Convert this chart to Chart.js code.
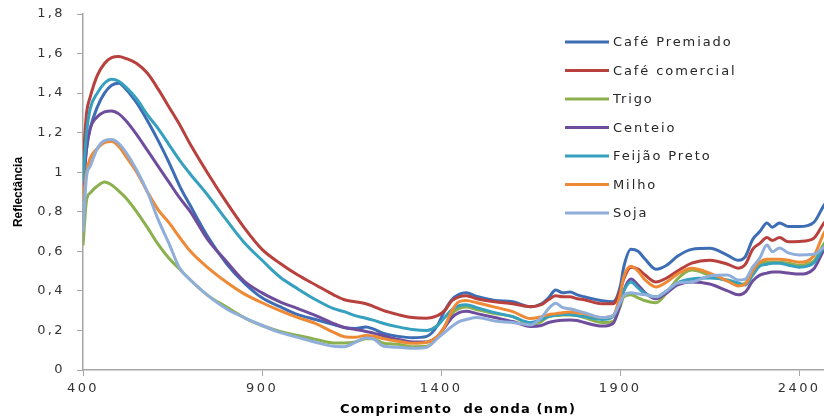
<!DOCTYPE html>
<html>
<head>
<meta charset="utf-8">
<script src="https://cdn.jsdelivr.net/npm/chart.js@4"></script>
<style>
html,body{margin:0;padding:0;background:#fff;overflow:hidden;width:824px;height:419px;}
#wrap{position:absolute;left:0;top:0;width:835px;height:419px;}
</style>
</head>
<body>
<div id="wrap"><canvas id="c" width="835" height="419"></canvas></div>
<script>
// ---- data ----
const WAVELENGTHS = [400,410,420,440,460,480,500,520,550,580,610,640,670,700,
  750,800,850,900,950,1000,1050,1100,
  1130,1160,1190,1210,1240,1280,1320,1360,
  1390,1410,1430,1450,1470,1500,
  1550,1600,1650,1680,1700,1720,1740,1760,1780,1800,
  1850,1880,1900,1910,1930,1950,1970,2000,
  2030,2060,2100,2150,2200,2230,2250,
  2270,2290,2310,2325,2345,2370,2400,2440,2470,2500];

const CAFE_PREMIADO = [0.95,1.12,1.22,1.33,1.40,1.44,1.45,1.42,1.35,1.26,1.16,1.05,0.93,0.83,
  0.67,0.54,0.44,0.365,0.32,0.28,0.255,0.23,
  0.215,0.21,0.218,0.208,0.185,0.17,0.163,0.17,
  0.225,0.30,0.355,0.382,0.39,0.372,
  0.352,0.345,0.32,0.335,0.365,0.405,0.39,0.395,0.38,0.37,
  0.35,0.345,0.42,0.52,0.61,0.60,0.56,0.51,
  0.53,0.575,0.61,0.615,0.58,0.555,0.575,
  0.66,0.70,0.743,0.722,0.743,0.725,0.725,0.745,0.835,0.90];

const CAFE_COMERCIAL = [1.05,1.30,1.38,1.49,1.55,1.58,1.585,1.575,1.55,1.50,1.42,1.33,1.24,1.14,
  0.99,0.85,0.72,0.61,0.54,0.48,0.43,0.38,
  0.355,0.345,0.335,0.322,0.30,0.28,0.265,0.262,
  0.275,0.30,0.35,0.37,0.375,0.36,
  0.345,0.335,0.32,0.33,0.355,0.375,0.37,0.37,0.36,0.355,
  0.335,0.335,0.40,0.46,0.52,0.51,0.48,0.445,
  0.465,0.50,0.54,0.555,0.535,0.515,0.535,
  0.61,0.64,0.67,0.655,0.67,0.648,0.65,0.665,0.745,0.80];

const TRIGO = [0.63,0.86,0.895,0.93,0.95,0.935,0.905,0.87,0.80,0.72,0.635,0.565,0.51,0.455,
  0.375,0.32,0.265,0.225,0.195,0.175,0.155,0.137,
  0.137,0.142,0.158,0.158,0.135,0.13,0.118,0.12,
  0.165,0.22,0.285,0.31,0.318,0.305,
  0.285,0.27,0.23,0.245,0.27,0.275,0.278,0.278,0.275,0.265,
  0.24,0.245,0.32,0.37,0.38,0.365,0.35,0.34,
  0.39,0.46,0.505,0.48,0.45,0.43,0.44,
  0.50,0.54,0.545,0.545,0.545,0.54,0.53,0.55,0.64,0.70];

const CENTEIO = [0.90,1.12,1.22,1.28,1.305,1.31,1.295,1.26,1.19,1.11,1.03,0.95,0.87,0.80,
  0.655,0.55,0.45,0.39,0.345,0.31,0.275,0.235,
  0.215,0.205,0.195,0.187,0.172,0.155,0.142,0.142,
  0.17,0.215,0.265,0.29,0.297,0.285,
  0.265,0.245,0.22,0.225,0.24,0.248,0.252,0.253,0.25,0.24,
  0.222,0.235,0.33,0.40,0.46,0.43,0.39,0.36,
  0.39,0.43,0.445,0.435,0.40,0.38,0.395,
  0.45,0.48,0.49,0.495,0.495,0.49,0.485,0.51,0.61,0.68];

const FEIJAO_PRETO = [0.95,1.20,1.32,1.40,1.45,1.47,1.46,1.43,1.37,1.29,1.22,1.14,1.06,0.99,
  0.88,0.76,0.645,0.555,0.47,0.41,0.355,0.31,
  0.295,0.275,0.262,0.252,0.235,0.218,0.205,0.20,
  0.225,0.265,0.305,0.325,0.33,0.315,
  0.29,0.27,0.24,0.255,0.27,0.278,0.28,0.28,0.275,0.27,
  0.255,0.27,0.35,0.40,0.445,0.415,0.385,0.37,
  0.40,0.44,0.46,0.465,0.455,0.44,0.43,
  0.48,0.525,0.535,0.54,0.54,0.53,0.52,0.54,0.625,0.69];

const MILHO = [0.85,1.00,1.07,1.12,1.15,1.155,1.13,1.08,1.00,0.90,0.81,0.745,0.67,0.60,
  0.515,0.445,0.385,0.34,0.30,0.265,0.235,0.19,
  0.168,0.165,0.175,0.172,0.158,0.145,0.135,0.14,
  0.17,0.22,0.30,0.345,0.352,0.34,
  0.318,0.295,0.26,0.27,0.28,0.285,0.29,0.293,0.29,0.285,
  0.265,0.275,0.38,0.47,0.525,0.50,0.455,0.42,
  0.445,0.485,0.515,0.49,0.45,0.425,0.435,
  0.50,0.545,0.56,0.56,0.56,0.555,0.545,0.575,0.695,0.76];

const SOJA = [0.70,0.98,1.03,1.12,1.16,1.165,1.145,1.10,1.01,0.90,0.76,0.64,0.515,0.455,
  0.375,0.31,0.265,0.225,0.19,0.165,0.14,0.12,
  0.118,0.14,0.162,0.158,0.12,0.115,0.11,0.115,
  0.16,0.19,0.22,0.245,0.255,0.265,
  0.248,0.24,0.228,0.265,0.31,0.338,0.315,0.31,0.30,0.29,
  0.265,0.275,0.34,0.375,0.39,0.385,0.38,0.37,
  0.40,0.44,0.445,0.475,0.48,0.455,0.46,
  0.52,0.566,0.632,0.598,0.617,0.592,0.582,0.585,0.622,0.66];

const SERIES_NAMES = ['Café Premiado','Café comercial','Trigo','Centeio','Feijão Preto','Milho','Soja'];
const X_TICKS = [400,900,1400,1900,2400];
const X_TICK_LABELS = ['400','900','1400','1900','2400'];
const Y_TICKS = [0,0.2,0.4,0.6,0.8,1,1.2,1.4,1.6,1.8];
const Y_TICK_LABELS = ['0','0,2','0,4','0,6','0,8','1','1,2','1,4','1,6','1,8'];
const X_TITLE = 'Comprimento  de onda (nm)';
const Y_TITLE = 'Reflectância';

// ---- styles ----
const COLORS = ['#3D6DB4','#B8403D','#8BB04E','#6E4E9C','#36A1BF','#EE8A36','#90AEDA'];
const SERIES = [CAFE_PREMIADO, CAFE_COMERCIAL, TRIGO, CENTEIO, FEIJAO_PRETO, MILHO, SOJA];

const datasets = SERIES.map((vals, i) => ({
  label: SERIES_NAMES[i],
  data: WAVELENGTHS.map((x, j) => ({x: x, y: vals[j]})),
  borderColor: COLORS[i],
  backgroundColor: COLORS[i],
  borderWidth: 3,
  pointRadius: 0,
  cubicInterpolationMode: 'monotone',
  fill: false,
  order: SERIES.length - 1 - i
}));

const SPACING = '2.4px';

const textPlugin = {
  id: 'textPlugin',
  beforeDraw(chart) {
    chart.ctx.letterSpacing = SPACING;
  },
  afterDraw(chart) {
    const ctx = chart.ctx;
    ctx.save();
    // legend
    ctx.letterSpacing = '1.9px';
    ctx.font = '13px "DejaVu Sans"';
    ctx.textBaseline = 'middle';
    ctx.textAlign = 'left';
    chart.data.datasets.forEach((ds, i) => {
      const y = 42 + i * 28.5;
      ctx.strokeStyle = ds.borderColor;
      ctx.lineWidth = 3;
      ctx.beginPath();
      ctx.moveTo(565, y);
      ctx.lineTo(609, y);
      ctx.stroke();
      ctx.fillStyle = '#262626';
      ctx.fillText(ds.label, 613, y + 1);
    });
    // x title
    ctx.letterSpacing = '1.2px';
    ctx.font = 'bold 13px "DejaVu Sans"';
    ctx.textAlign = 'center';
    ctx.textBaseline = 'alphabetic';
    ctx.fillStyle = '#000';
    ctx.fillText(X_TITLE, 458, 413);
    // y title
    ctx.letterSpacing = '0px';
    let fam = '"Liberation Sans Narrow", "Liberation Sans", Arial, sans-serif';
    ctx.font = 'bold 14px ' + fam;
    const w = ctx.measureText(Y_TITLE).width;
    const size = 14 * 70 / w;
    ctx.font = 'bold ' + size.toFixed(2) + 'px ' + fam;
    ctx.translate(18.5, 192);
    ctx.rotate(-Math.PI / 2);
    ctx.textAlign = 'center';
    ctx.textBaseline = 'middle';
    ctx.fillText(Y_TITLE, 0, 0);
    ctx.restore();
  }
};

new Chart(document.getElementById('c'), {
  type: 'line',
  data: { datasets: datasets },
  plugins: [textPlugin],
  options: {
    responsive: false,
    animation: false,
    devicePixelRatio: 1,
    layout: { padding: { top: 14, left: 0, right: 0, bottom: 0 } },
    plugins: { legend: { display: false }, tooltip: { enabled: false } },
    scales: {
      x: {
        type: 'linear',
        min: 400, max: 2500,
        afterBuildTicks: s => { s.ticks = X_TICKS.map(v => ({ value: v })); },
        afterFit: s => { s.height = 49; s.paddingLeft = 0; s.paddingRight = 0; },
        grid: { drawOnChartArea: false, drawTicks: true, tickLength: 6, color: '#a6a6a6' },
        border: { color: '#a6a6a6', width: 1.5 },
        ticks: {
          padding: 5, autoSkip: false, maxRotation: 0,
          font: { family: 'DejaVu Sans', size: 13 }, color: '#333',
          callback: (v, i) => X_TICK_LABELS[i]
        }
      },
      y: {
        type: 'linear',
        min: 0, max: 1.8,
        afterBuildTicks: s => { s.ticks = Y_TICKS.map(v => ({ value: v })); },
        afterFit: s => { s.width = 83; s.paddingTop = 0; s.paddingBottom = 0; },
        grid: { drawOnChartArea: false, drawTicks: true, tickLength: 6, color: '#a6a6a6' },
        border: { color: '#a6a6a6', width: 1.5 },
        ticks: {
          padding: 12,
          font: { family: 'DejaVu Sans', size: 13 }, color: '#333',
          callback: (v, i) => Y_TICK_LABELS[i]
        }
      }
    }
  }
});
</script>
</body>
</html>
